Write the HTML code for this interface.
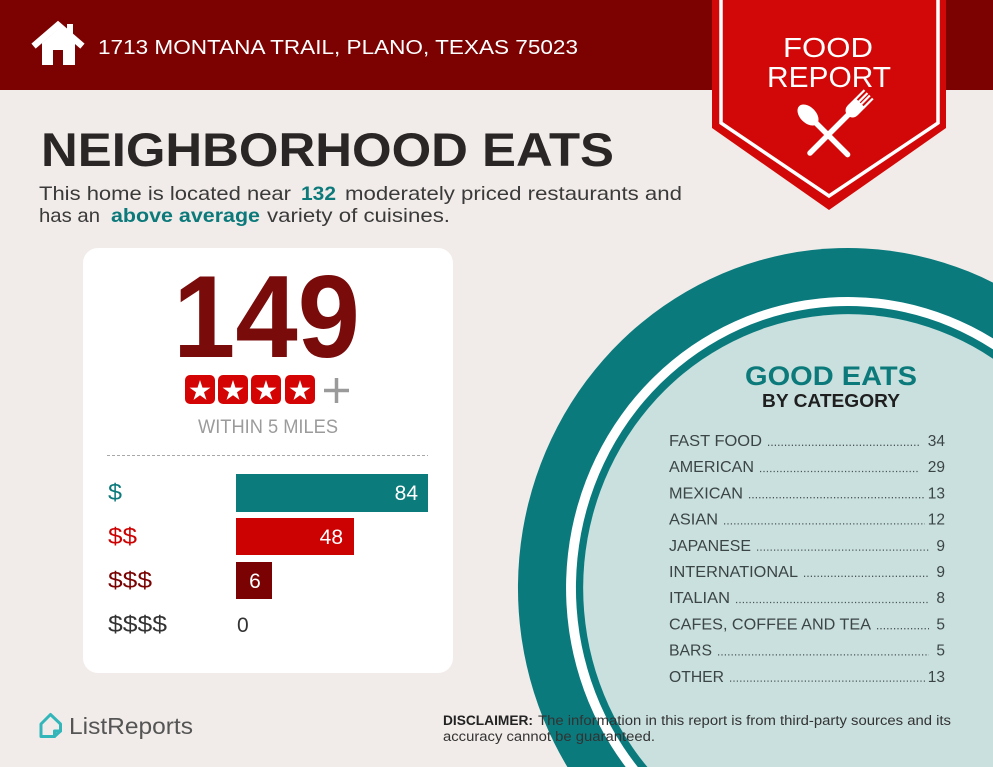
<!DOCTYPE html>
<html><head><meta charset="utf-8"><style>
html,body{margin:0;padding:0;background:#f1ece9;width:993px;height:767px;overflow:hidden;}
svg{display:block;font-family:"Liberation Sans",sans-serif;}
</style></head><body>
<svg width="993" height="767" viewBox="0 0 993 767" xmlns="http://www.w3.org/2000/svg">
<rect width="993" height="767" fill="#f1ece9"/>
<!-- header -->
<rect x="0" y="0" width="993" height="90" fill="#7c0101"/>
<!-- house icon -->
<g fill="#fff">
<rect x="67" y="24" width="6" height="12"/>
<polyline points="36,44 58,25 80,44" fill="none" stroke="#fff" stroke-width="6.5" stroke-linecap="square"/>
<path d="M42,43 L58,29 L75,43 L75,65 L63,65 L63,50 L53,50 L53,65 L42,65 Z"/>
</g>
<text x="98" y="54" font-size="20" fill="#fff" textLength="480" lengthAdjust="spacingAndGlyphs">1713 MONTANA TRAIL, PLANO, TEXAS 75023</text>
<!-- banner -->
<polygon points="712,0 946,0 946,128 829,210 712,128" fill="#d20808"/>
<polyline points="721,0 721,123 829,196 938,123 938,0" fill="none" stroke="#fff" stroke-width="3.5"/>
<text x="783" y="57" font-size="28" fill="#fff" textLength="90" lengthAdjust="spacingAndGlyphs">FOOD</text>
<text x="767" y="87" font-size="29" fill="#fff" textLength="124" lengthAdjust="spacingAndGlyphs">REPORT</text>
<!-- utensils -->
<g fill="#fff" stroke="#fff">
<g transform="translate(808,115) rotate(-45)">
<ellipse cx="0" cy="0" rx="8" ry="12.5" stroke="none"/>
<line x1="0" y1="8" x2="0" y2="56" stroke-width="5.5" stroke-linecap="round"/>
</g>
<g transform="translate(851,112) rotate(45)">
<path d="M-7,-13 L7,-13 L7,-3 Q7,4 0,5 Q-7,4 -7,-3 Z" stroke="none"/>
<rect x="-7" y="-25" width="2.2" height="13" stroke="none"/>
<rect x="-2.8" y="-25" width="2.2" height="13" stroke="none"/>
<rect x="0.6" y="-25" width="2.2" height="13" stroke="none"/>
<rect x="4.8" y="-25" width="2.2" height="13" stroke="none"/>
<line x1="0" y1="2" x2="0" y2="58" stroke-width="5.5" stroke-linecap="round"/>
</g>
</g>
<!-- title -->
<text x="41" y="166" font-size="47" font-weight="bold" fill="#2a2626" textLength="573" lengthAdjust="spacingAndGlyphs">NEIGHBORHOOD EATS</text>
<g font-size="19.5" fill="#3a3a3a">
<text x="39" y="200" textLength="252" lengthAdjust="spacingAndGlyphs">This home is located near</text>
<text x="301" y="200" font-weight="bold" fill="#0c7a7b" textLength="35" lengthAdjust="spacingAndGlyphs">132</text>
<text x="345" y="200" textLength="337" lengthAdjust="spacingAndGlyphs">moderately priced restaurants and</text>
<text x="39" y="222" textLength="61" lengthAdjust="spacingAndGlyphs">has an</text>
<text x="111" y="222" font-weight="bold" fill="#0c7a7b" textLength="149" lengthAdjust="spacingAndGlyphs">above average</text>
<text x="267" y="222" textLength="183" lengthAdjust="spacingAndGlyphs">variety of cuisines.</text>
</g>
<!-- card -->
<rect x="83" y="248" width="370" height="425" rx="15" fill="#fff"/>
<text x="173" y="357" font-size="117" font-weight="bold" fill="#790b0b" textLength="187" lengthAdjust="spacingAndGlyphs">149</text>
<defs>
<path id="st" d="M0,-1 L0.2245,-0.309 L0.951,-0.309 L0.363,0.118 L0.588,0.809 L0,0.382 L-0.588,0.809 L-0.363,0.118 L-0.951,-0.309 L-0.2245,-0.309 Z"/>
</defs>
<g fill="#d40404">
<rect x="185" y="375" width="30" height="29" rx="5"/>
<rect x="218" y="375" width="30" height="29" rx="5"/>
<rect x="251" y="375" width="30" height="29" rx="5"/>
<rect x="285" y="375" width="30" height="29" rx="5"/>
</g>
<g fill="#fff">
<use href="#st" transform="translate(200,391) scale(11)"/>
<use href="#st" transform="translate(233,391) scale(11)"/>
<use href="#st" transform="translate(266,391) scale(11)"/>
<use href="#st" transform="translate(300,391) scale(11)"/>
</g>
<g stroke="#9a9a9a" stroke-width="3.5">
<line x1="324" y1="390.5" x2="349" y2="390.5"/>
<line x1="336.5" y1="378" x2="336.5" y2="403"/>
</g>
<text x="198" y="433" font-size="19" fill="#9b9b9b" textLength="140" lengthAdjust="spacingAndGlyphs">WITHIN 5 MILES</text>
<line x1="107" y1="455.5" x2="428" y2="455.5" stroke="#a8a8a8" stroke-width="1" stroke-dasharray="3 2"/>
<!-- bars -->
<rect x="236" y="474" width="192" height="38" fill="#0b7b7b"/>
<rect x="236" y="518" width="118" height="37" fill="#cc0202"/>
<rect x="236" y="562" width="36" height="37" fill="#7a0202"/>
<g font-size="21" fill="#fff">
<text x="418" y="500" text-anchor="end">84</text>
<text x="343" y="544" text-anchor="end">48</text>
<text x="255" y="588" text-anchor="middle">6</text>
</g>
<g font-size="23">
<text x="108" y="500" fill="#0c7a7b" textLength="14" lengthAdjust="spacingAndGlyphs">$</text>
<text x="108" y="544" fill="#cc0202" textLength="29" lengthAdjust="spacingAndGlyphs">$$</text>
<text x="108" y="588" fill="#7a0202" textLength="44" lengthAdjust="spacingAndGlyphs">$$$</text>
<text x="108" y="632" fill="#333" textLength="59" lengthAdjust="spacingAndGlyphs">$$$$</text>
</g>
<text x="237" y="632" font-size="21" fill="#333">0</text>
<!-- circle (clipped to viewport as paths) -->
<path d="M567.4,767 A330,340 0 0 1 993,282.6 L993,767 Z" fill="#0a7a7d"/>
<path d="M625.7,767 A282,291 0 0 1 993,338.4 L993,767 Z" fill="#fff"/>
<path d="M637.8,767 A272,282 0 0 1 993,349.4 L993,767 Z" fill="#0a7a7d"/>
<path d="M647.4,767 A265,274 0 0 1 993,358.7 L993,767 Z" fill="#c9e0de"/>
<text x="745" y="385" font-size="27" font-weight="bold" fill="#0c7a7b" textLength="172" lengthAdjust="spacingAndGlyphs">GOOD EATS</text>
<text x="762" y="407" font-size="18.5" font-weight="bold" fill="#1f1f1f" textLength="138" lengthAdjust="spacingAndGlyphs">BY CATEGORY</text>
<g font-size="15.5" fill="#3c4545">
<text x="669" y="446" textLength="93" lengthAdjust="spacingAndGlyphs">FAST FOOD</text>
<text x="945" y="446" text-anchor="end">34</text>
<text x="669" y="472.2" textLength="85" lengthAdjust="spacingAndGlyphs">AMERICAN</text>
<text x="945" y="472.2" text-anchor="end">29</text>
<text x="669" y="498.4" textLength="74" lengthAdjust="spacingAndGlyphs">MEXICAN</text>
<text x="945" y="498.4" text-anchor="end">13</text>
<text x="669" y="524.6" textLength="49" lengthAdjust="spacingAndGlyphs">ASIAN</text>
<text x="945" y="524.6" text-anchor="end">12</text>
<text x="669" y="550.8" textLength="82" lengthAdjust="spacingAndGlyphs">JAPANESE</text>
<text x="945" y="550.8" text-anchor="end">9</text>
<text x="669" y="577" textLength="129" lengthAdjust="spacingAndGlyphs">INTERNATIONAL</text>
<text x="945" y="577" text-anchor="end">9</text>
<text x="669" y="603.2" textLength="61" lengthAdjust="spacingAndGlyphs">ITALIAN</text>
<text x="945" y="603.2" text-anchor="end">8</text>
<text x="669" y="629.4" textLength="202" lengthAdjust="spacingAndGlyphs">CAFES, COFFEE AND TEA</text>
<text x="945" y="629.4" text-anchor="end">5</text>
<text x="669" y="655.6" textLength="43" lengthAdjust="spacingAndGlyphs">BARS</text>
<text x="945" y="655.6" text-anchor="end">5</text>
<text x="669" y="681.8" textLength="55" lengthAdjust="spacingAndGlyphs">OTHER</text>
<text x="945" y="681.8" text-anchor="end">13</text>
</g>
<g stroke="#4a5555" stroke-width="1.3" stroke-dasharray="1.2 2.2">
<line x1="768" y1="445.3" x2="921" y2="445.3"/>
<line x1="760" y1="471.5" x2="919" y2="471.5"/>
<line x1="749" y1="497.7" x2="925" y2="497.7"/>
<line x1="724" y1="523.9" x2="925" y2="523.9"/>
<line x1="757" y1="550.1" x2="929" y2="550.1"/>
<line x1="804" y1="576.3" x2="929" y2="576.3"/>
<line x1="736" y1="602.5" x2="929" y2="602.5"/>
<line x1="877" y1="628.7" x2="929" y2="628.7"/>
<line x1="718" y1="654.9" x2="929" y2="654.9"/>
<line x1="730" y1="681.1" x2="925" y2="681.1"/>
</g>
<!-- footer -->
<g fill="none" stroke="#33b6ba" stroke-width="3" stroke-linejoin="round" stroke-linecap="round">
<path d="M41,724 L50.5,714.5 L60.5,724 L60.5,731 L54.5,736.5 L41,736.5 Z"/>
<path d="M54.5,736.5 L54.5,731 L60.5,731"/>
</g>
<text x="69" y="734" font-size="23.5" fill="#555" textLength="124" lengthAdjust="spacingAndGlyphs">ListReports</text>
<text x="443" y="725" font-size="13.5" font-weight="bold" fill="#222" textLength="90" lengthAdjust="spacingAndGlyphs">DISCLAIMER:</text>
<text x="538" y="725" font-size="13.5" fill="#333" textLength="413" lengthAdjust="spacingAndGlyphs">The information in this report is from third-party sources and its</text>
<text x="443" y="741" font-size="13.5" fill="#333" textLength="212" lengthAdjust="spacingAndGlyphs">accuracy cannot be guaranteed.</text>
</svg>
</body></html>
